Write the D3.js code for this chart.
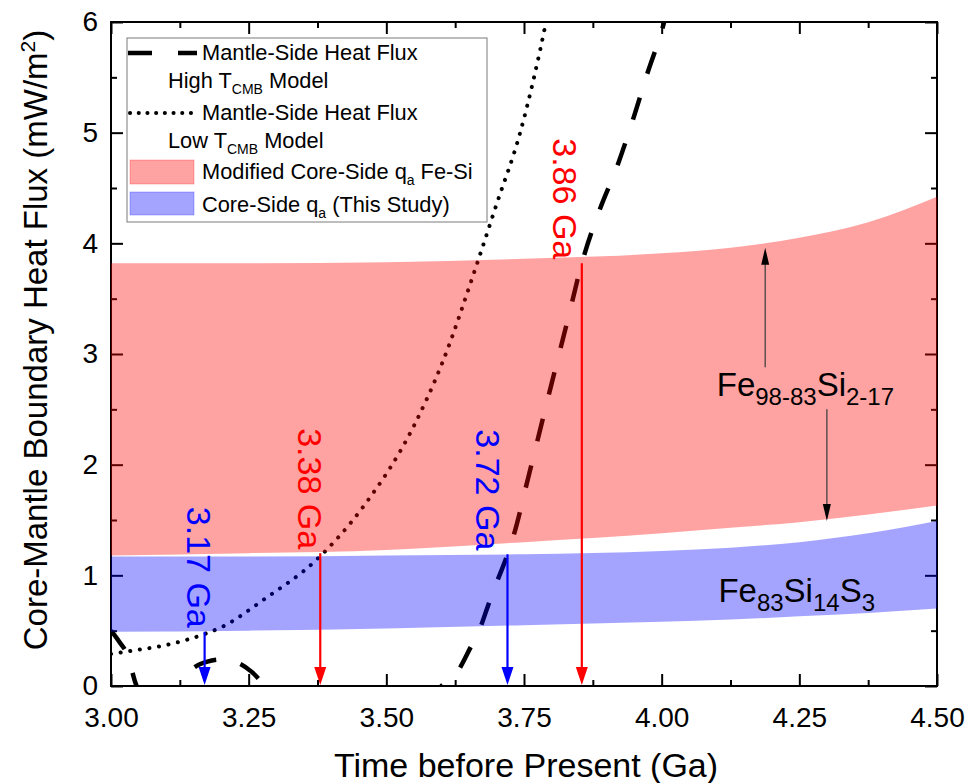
<!DOCTYPE html>
<html><head><meta charset="utf-8">
<script src="https://cdn.jsdelivr.net/npm/d3@7"></script>
<style>
body{margin:0;background:#fff}
text{font-family:"Liberation Sans",Arial,sans-serif}
</style>
</head><body>
<svg id="c" width="969" height="783"></svg>
<script>
// ---------------- data ----------------
const xTickValues = [3.00, 3.25, 3.50, 3.75, 4.00, 4.25, 4.50];
const yTickValues = [0, 1, 2, 3, 4, 5, 6];

// core-side bands
const bandTime       = [3.00, 3.25, 3.50, 3.75, 4.00, 4.125, 4.25, 4.375, 4.50];
const feSiUpper      = [3.82, 3.82, 3.83, 3.86, 3.91, 3.96, 4.05, 4.19, 4.42];
const feSiLower      = [1.18, 1.20, 1.23, 1.30, 1.38, 1.43, 1.48, 1.55, 1.63];
const thisStudyUpper = [1.17, 1.17, 1.18, 1.19, 1.22, 1.25, 1.30, 1.38, 1.49];
const thisStudyLower = [0.49, 0.50, 0.52, 0.55, 0.58, 0.60, 0.63, 0.66, 0.70];

// mantle-side heat flux, high T_CMB model (dashed)
const highTime = [3.000, 3.015, 3.030, 3.045, 3.070, 3.100, 3.125, 3.145, 3.175, 3.200, 3.225, 3.255, 3.280, 3.350, 3.450, 3.550, 3.600, 3.628, 3.652, 3.670, 3.685, 3.700, 3.718, 3.730, 3.760, 3.800, 3.830, 3.855, 3.888, 3.918, 3.948, 3.975, 4.000, 4.010];
const highFlux = [0.50, 0.40, 0.28, 0.02, -0.15, -0.12, 0.00, 0.14, 0.22, 0.24, 0.22, 0.13, 0.00, -0.40, -0.60, -0.30, 0.00, 0.12, 0.34, 0.52, 0.73, 0.93, 1.16, 1.34, 1.93, 2.73, 3.32, 3.82, 4.31, 4.68, 5.12, 5.55, 5.92, 6.10];

// mantle-side heat flux, low T_CMB model (dotted)
const lowTime = [3.000, 3.040, 3.100, 3.170, 3.200, 3.280, 3.373, 3.458, 3.550, 3.600, 3.665, 3.700, 3.743, 3.790, 3.800];
const lowFlux = [0.29, 0.32, 0.37, 0.47, 0.53, 0.79, 1.14, 1.62, 2.35, 2.90, 3.82, 4.35, 5.00, 6.00, 6.25];

// crossing markers
const markerTime  = [3.17, 3.38, 3.72, 3.855];
const markerFlux  = [0.49, 1.20, 1.19, 3.82];
const markerLabel = ["3.17 Ga", "3.38 Ga", "3.72 Ga", "3.86 Ga"];

// composition annotations
const annotTime = [4.10, 4.103];
const annotFlux = [2.62, 0.76];
const upArrowTime = 4.188, upArrowFrom = 2.88, upArrowTo = 3.96;
const downArrowTime = 4.30, downArrowFrom = 2.50, downArrowTo = 1.49;

// ---------------- layout ----------------
const svg = d3.select("#c");
const X = d3.scaleLinear().domain([3, 4.5]).range([111, 937]);
const Y = d3.scaleLinear().domain([0, 6]).range([686, 22]);
const FONT = '"Liberation Sans",Arial,sans-serif';

svg.append("defs").append("clipPath").attr("id", "plot")
  .append("rect").attr("x", X(3)).attr("y", Y(6)).attr("width", X(4.5) - X(3)).attr("height", Y(0) - Y(6));

// ---------------- axes ----------------
const xMinor = d3.range(3.125, 4.5, 0.25);
const yMinor = d3.range(0.5, 6, 1);
function styleAxis(g) {
  g.select(".domain").remove();
  g.selectAll(".tick line").attr("stroke", "#000").attr("stroke-width", 2);
  g.selectAll(".tick text").attr("fill", "#000").style("font-family", FONT).style("font-size", "28px");
}
svg.append("g").attr("transform", `translate(0,${Y(0)})`)
  .call(d3.axisBottom(X).tickValues(xTickValues).tickFormat(d3.format(".2f")).tickSizeInner(-12).tickSizeOuter(0).tickPadding(21)).call(styleAxis);
svg.append("g").attr("transform", `translate(0,${Y(0)})`)
  .call(d3.axisBottom(X).tickValues(xMinor).tickFormat("").tickSizeInner(-6).tickSizeOuter(0)).call(styleAxis);
svg.append("g").attr("transform", `translate(0,${Y(6)})`)
  .call(d3.axisTop(X).tickValues(xTickValues).tickFormat("").tickSizeInner(-12).tickSizeOuter(0)).call(styleAxis);
svg.append("g").attr("transform", `translate(0,${Y(6)})`)
  .call(d3.axisTop(X).tickValues(xMinor).tickFormat("").tickSizeInner(-6).tickSizeOuter(0)).call(styleAxis);
svg.append("g").attr("transform", `translate(${X(3)},0)`)
  .call(d3.axisLeft(Y).tickValues(yTickValues).tickFormat(d3.format("d")).tickSizeInner(-12).tickSizeOuter(0).tickPadding(13)).call(styleAxis);
svg.append("g").attr("transform", `translate(${X(3)},0)`)
  .call(d3.axisLeft(Y).tickValues(yMinor).tickFormat("").tickSizeInner(-6).tickSizeOuter(0)).call(styleAxis);
svg.append("g").attr("transform", `translate(${X(4.5)},0)`)
  .call(d3.axisRight(Y).tickValues(yTickValues).tickFormat("").tickSizeInner(-12).tickSizeOuter(0)).call(styleAxis);
svg.append("g").attr("transform", `translate(${X(4.5)},0)`)
  .call(d3.axisRight(Y).tickValues(yMinor).tickFormat("").tickSizeInner(-6).tickSizeOuter(0)).call(styleAxis);

svg.append("rect").attr("x", X(3)).attr("y", Y(6)).attr("width", X(4.5) - X(3)).attr("height", Y(0) - Y(6))
  .attr("fill", "none").attr("stroke", "#000").attr("stroke-width", 2);

// axis titles
svg.append("text").attr("x", (X(3) + X(4.5)) / 2 + 2).attr("y", 777).attr("text-anchor", "middle")
  .style("font-size", "34px").text("Time before Present (Ga)");
const yl = svg.append("text").attr("transform", `translate(47,${(Y(0) + Y(6)) / 2 - 14}) rotate(-90)`)
  .attr("text-anchor", "middle").style("font-size", "33px");
yl.append("tspan").text("Core-Mantle Boundary Heat Flux (mW/m");
yl.append("tspan").attr("dy", -12).style("font-size", "21px").text("2");
yl.append("tspan").attr("dy", 12).text(")");

// ---------------- curves ----------------
const plot = svg.append("g").attr("clip-path", "url(#plot)");
const line = d3.line().x(d => X(d[0])).y(d => Y(d[1])).curve(d3.curveMonotoneX);
plot.append("path").datum(highTime.map((t, i) => [t, highFlux[i]]))
  .attr("d", line).attr("fill", "none").attr("stroke", "#000").attr("stroke-width", 4.5)
  .attr("stroke-dasharray", "23,25");
plot.append("path").datum(lowTime.map((t, i) => [t, lowFlux[i]]))
  .attr("d", line).attr("fill", "none").attr("stroke", "#000").attr("stroke-width", 4)
  .attr("stroke-linecap", "round").attr("stroke-dasharray", "0.1,9.6");

// ---------------- bands ----------------
const area = d3.area().x(d => X(d[0])).y0(d => Y(d[1])).y1(d => Y(d[2])).curve(d3.curveMonotoneX);
plot.append("path").datum(bandTime.map((t, i) => [t, feSiLower[i], feSiUpper[i]]))
  .attr("d", area).attr("fill", "rgb(255,0,0)").attr("fill-opacity", 0.365);
plot.append("path").datum(bandTime.map((t, i) => [t, thisStudyLower[i], thisStudyUpper[i]]))
  .attr("d", area).attr("fill", "rgb(0,0,255)").attr("fill-opacity", 0.355);

// ---------------- composition annotations ----------------
function vArrow(g, x, y1, y2, color, width, headW, headL) {
  const dir = y2 > y1 ? 1 : -1;
  g.append("line").attr("x1", x).attr("x2", x).attr("y1", y1).attr("y2", y2 - dir * headL * 0.8)
    .attr("stroke", color).attr("stroke-width", width);
  g.append("path").attr("d", `M${x},${y2} L${x - headW / 2},${y2 - dir * headL} L${x + headW / 2},${y2 - dir * headL} Z`)
    .attr("fill", color);
}
const ann = svg.append("g");
vArrow(ann, X(upArrowTime), Y(upArrowFrom), Y(upArrowTo), "#444", 1.3, 8, 17);
vArrow(ann, X(downArrowTime), Y(downArrowFrom), Y(downArrowTo), "#444", 1.3, 8, 17);
ann.selectAll("path").attr("fill", "#000");

function formula(x, y, parts) {
  const t = svg.append("text").attr("x", x).attr("y", y).style("font-size", "33px");
  parts.forEach(p => {
    t.append("tspan").attr("dy", p[1] ? 9 : -9).style("font-size", p[1] ? "24px" : "33px").text(p[0]);
  });
  t.select("tspan").attr("dy", 0);
}
formula(X(annotTime[0]), Y(annotFlux[0]), [["Fe", 0], ["98-83", 1], ["Si", 0], ["2-17", 1]]);
formula(X(annotTime[1]), Y(annotFlux[1]), [["Fe", 0], ["83", 1], ["Si", 0], ["14", 1], ["S", 0], ["3", 1]]);

// ---------------- markers ----------------
const markerColor = ["#0000ff", "#ff0000", "#0000ff", "#ff0000"];
const labelDx = [-17.5, -22, -31.5, -29];
const mk = svg.append("g");
markerTime.forEach((t, i) => {
  vArrow(mk, X(t), Y(markerFlux[i]), Y(0) - 1, markerColor[i], 2.2, 12, 18);
  mk.append("text").attr("transform", `translate(${X(t) + labelDx[i]},${Y(markerFlux[i]) - 4}) rotate(90)`)
    .attr("text-anchor", "end").attr("fill", markerColor[i]).style("font-size", "34px").text(markerLabel[i]);
});

// ---------------- legend ----------------
const lg = svg.append("g");
lg.append("rect").attr("x", 127).attr("y", 38).attr("width", 360).attr("height", 184)
  .attr("fill", "#fff").attr("stroke", "#7a7a7a").attr("stroke-width", 1);
lg.append("line").attr("x1", 128).attr("x2", 197).attr("y1", 53).attr("y2", 53)
  .attr("stroke", "#000").attr("stroke-width", 4.5).attr("stroke-dasharray", "24,26");
lg.append("line").attr("x1", 130).attr("x2", 192).attr("y1", 113).attr("y2", 113)
  .attr("stroke", "#000").attr("stroke-width", 4).attr("stroke-linecap", "round").attr("stroke-dasharray", "0.1,8.6");
lg.append("rect").attr("x", 130).attr("y", 160).attr("width", 64).attr("height", 24)
  .attr("fill", "rgb(255,0,0)").attr("fill-opacity", 0.365).attr("stroke", "rgba(255,0,0,0.25)");
lg.append("rect").attr("x", 130).attr("y", 192).attr("width", 64).attr("height", 23)
  .attr("fill", "rgb(0,0,255)").attr("fill-opacity", 0.355).attr("stroke", "rgba(0,0,255,0.25)");

function legendText(x, y, parts) {
  const t = lg.append("text").attr("x", x).attr("y", y).style("font-size", "21.8px");
  parts.forEach(p => {
    t.append("tspan").attr("dy", p[1] ? 6 : -6).style("font-size", p[1] ? "14px" : "21.8px").text(p[0]);
  });
  t.select("tspan").attr("dy", 0);
}
legendText(202, 60, [["Mantle-Side Heat Flux", 0]]);
legendText(168, 88, [["High T", 0], ["CMB", 1], [" Model", 0]]);
legendText(202, 120, [["Mantle-Side Heat Flux", 0]]);
legendText(168, 148, [["Low T", 0], ["CMB", 1], [" Model", 0]]);
legendText(202, 179, [["Modified Core-Side q", 0], ["a", 1], [" Fe-Si", 0]]);
legendText(202, 212, [["Core-Side q", 0], ["a", 1], [" (This Study)", 0]]);
</script>
</body></html>
